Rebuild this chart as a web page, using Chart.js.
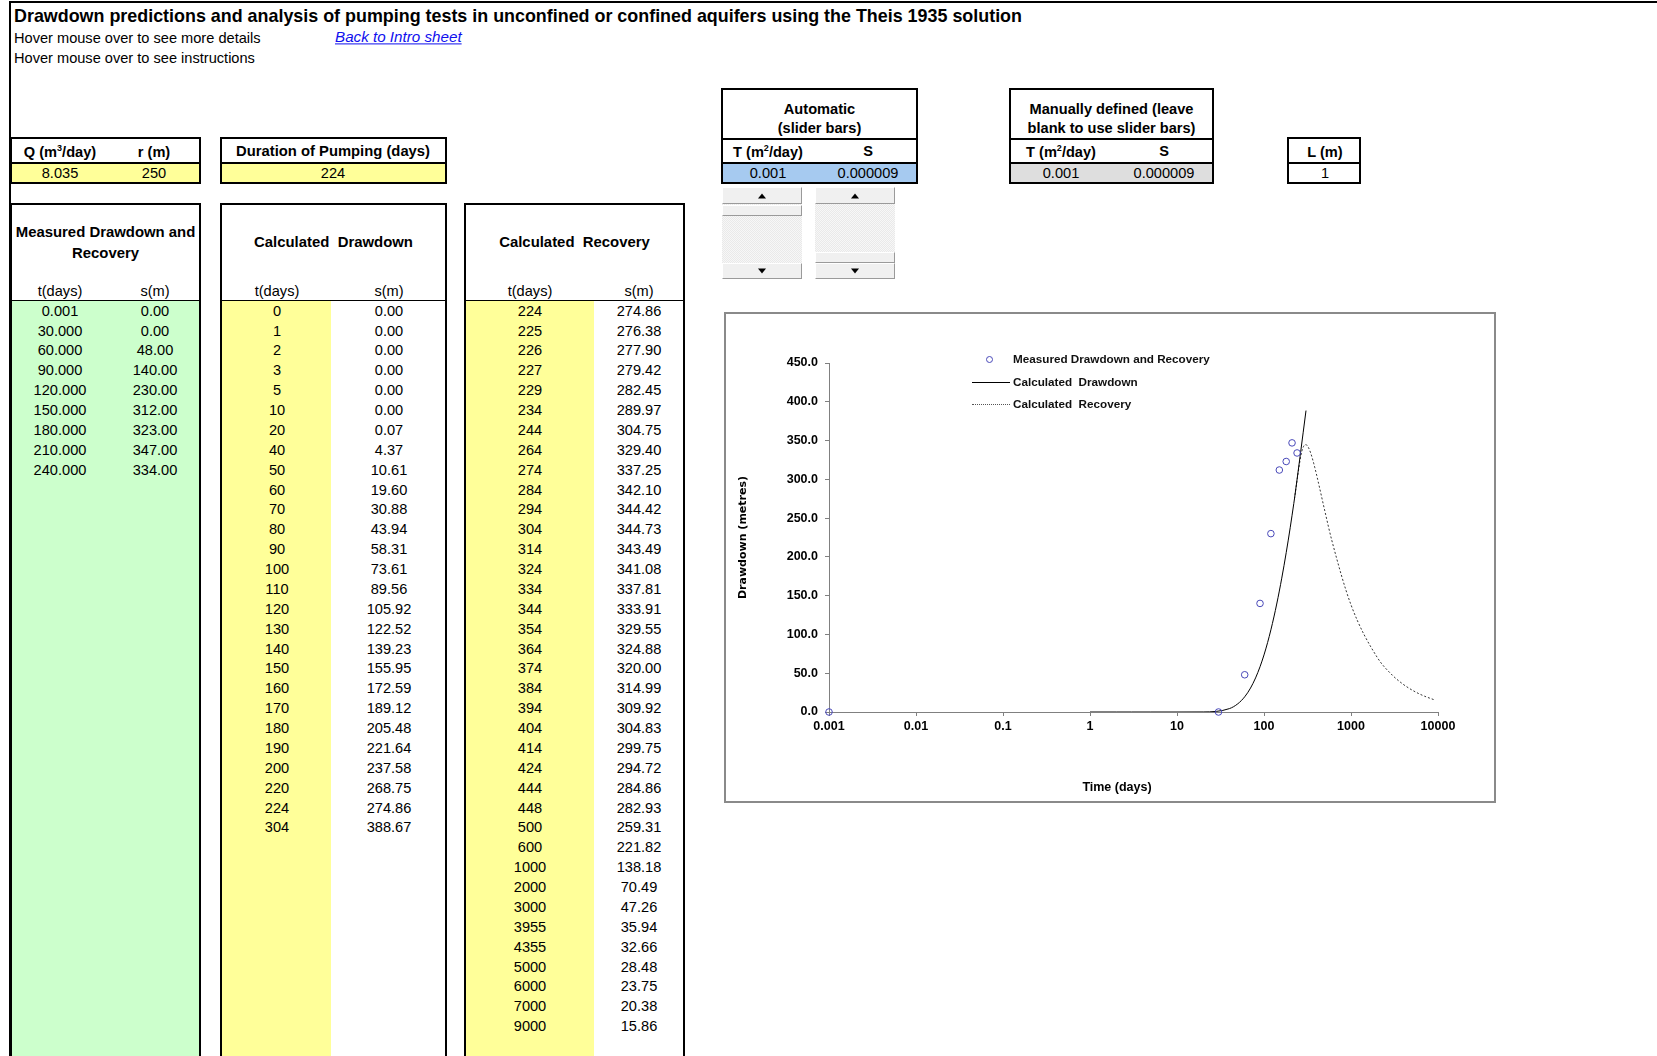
<!DOCTYPE html>
<html>
<head>
<meta charset="utf-8">
<script src="https://cdn.jsdelivr.net/npm/chart.js@4.4.1/dist/chart.umd.min.js"></script>
<style>
  body { margin: 0; background: #fff; }
  #page { position: relative; width: 1657px; height: 1056px; overflow: hidden;
          font-family: "Liberation Sans", Arial, sans-serif; color: #000; }
  .t { position: absolute; white-space: pre; transform: translate(-50%, -50%);
       font-size: 14.6px; line-height: 1; }
  .l { transform: translate(0, -50%); }
  .b { font-weight: bold; }
  .box { position: absolute; border: 2px solid #000; box-sizing: border-box; }
  .fill { position: absolute; }
  .hl { position: absolute; height: 1px; background: #000; }
  sup { font-size: 9px; vertical-align: 6px; line-height: 0; }
  .track { position: absolute; background: repeating-conic-gradient(#e9e9e9 0 25%, #f7f7f7 0 50%) 0 0 / 2px 2px; }
  .btn { position: absolute; box-sizing: border-box; background: #f0f0f0;
         border: 1px solid; border-color: #fff #9a9a9a #9a9a9a #fff; }
  .up, .dn { position: absolute; left: 50%; top: 50%; width: 0; height: 0;
             border-left: 4px solid transparent; border-right: 4px solid transparent;
             transform: translate(-50%, -50%); }
  .up { border-bottom: 5px solid #000; }
  .dn { border-top: 5px solid #000; }
  #chartBox { position: absolute; left: 724px; top: 312px; width: 772px; height: 491px;
              border: 2px solid #8a8a8a; box-sizing: border-box; background: #fff; }
  #chartBox canvas { position: absolute; left: 0; top: 0; }
</style>
</head>
<body>
<div id="page">
  <div id="chartBox"><canvas id="theisChart" width="768" height="487"></canvas></div>
</div>
<script>
// DATA
const measuredT = [0.001, 30, 60, 90, 120, 150, 180, 210, 240];
const measuredS = [0, 0, 48, 140, 230, 312, 323, 347, 334];

const drawdownT = [0, 1, 2, 3, 5, 10, 20, 40, 50, 60, 70, 80, 90, 100, 110, 120, 130, 140,
                   150, 160, 170, 180, 190, 200, 220, 224, 304];
const drawdownS = [0, 0, 0, 0, 0, 0, 0.07, 4.37, 10.61, 19.60, 30.88, 43.94, 58.31, 73.61,
                   89.56, 105.92, 122.52, 139.23, 155.95, 172.59, 189.12, 205.48, 221.64,
                   237.58, 268.75, 274.86, 388.67];

const recoveryT = [224, 225, 226, 227, 229, 234, 244, 264, 274, 284, 294, 304, 314, 324, 334,
                   344, 354, 364, 374, 384, 394, 404, 414, 424, 444, 448, 500, 600, 1000, 2000,
                   3000, 3955, 4355, 5000, 6000, 7000, 9000];
const recoveryS = [274.86, 276.38, 277.90, 279.42, 282.45, 289.97, 304.75, 329.40, 337.25,
                   342.10, 344.42, 344.73, 343.49, 341.08, 337.81, 333.91, 329.55, 324.88,
                   320.00, 314.99, 309.92, 304.83, 299.75, 294.72, 284.86, 282.93, 259.31,
                   221.82, 138.18, 70.49, 47.26, 35.94, 32.66, 28.48, 23.75, 20.38, 15.86];

const xTicks = [0.001, 0.01, 0.1, 1, 10, 100, 1000, 10000];
const xTickLabels = ['0.001', '0.01', '0.1', '1', '10', '100', '1000', '10000'];

// SHEET (cells around the chart)
const page = document.getElementById('page');

function el(cls, css, html) {
    const d = document.createElement('div');
    d.className = cls;
    Object.assign(d.style, css);
    if (html !== undefined) d.innerHTML = html;
    page.appendChild(d);
    return d;
}
function put(html, x, y, cls, css) {
    return el('t ' + (cls || ''), Object.assign({ left: x + 'px', top: y + 'px' }, css || {}), html);
}
function px(o) {
    const r = {};
    for (const k in o) r[k] = typeof o[k] === 'number' ? o[k] + 'px' : o[k];
    return r;
}

// page frame
el('fill', px({ left: 9, top: 1, width: 2, height: 1060, background: '#000' }));
el('fill', px({ left: 9, top: 1, width: 1660, height: 2, background: '#000' }));

put('Drawdown predictions and analysis of pumping tests in unconfined or confined aquifers using the Theis 1935 solution',
    14, 17, 'l b', { fontSize: '17.9px' });
put('Hover mouse over to see more details', 14, 38, 'l');
put('Back to Intro sheet', 335, 37, 'l', { color: '#1010ee', fontStyle: 'italic', textDecoration: 'underline', fontSize: '15.2px' });
put('Hover mouse over to see instructions', 14, 58, 'l');

// input boxes
el('fill', px({ left: 12, top: 164, width: 187, height: 18, background: '#ffff99' }));
el('box', px({ left: 10, top: 137, width: 191, height: 47 }));
el('hl', px({ left: 12, top: 162, width: 187, height: 1.5 }));
put('Q (m<sup>3</sup>/day)', 60, 152, 'b');
put('r (m)', 154, 152, 'b');
put('8.035', 60, 173);
put('250', 154, 173);

el('fill', px({ left: 222, top: 164, width: 223, height: 18, background: '#ffff99' }));
el('box', px({ left: 220, top: 137, width: 227, height: 47 }));
el('hl', px({ left: 222, top: 162, width: 223, height: 1.5 }));
put('Duration of Pumping (days)', 333, 151, 'b', { fontSize: '14.8px' });
put('224', 333, 173);

function paramBox(x, w, fill, head1, head2) {
    el('fill', px({ left: x + 2, top: 164, width: w - 4, height: 18, background: fill }));
    el('box', px({ left: x, top: 88, width: w, height: 96 }));
    el('hl', px({ left: x + 2, top: 138, width: w - 4, height: 1.5 }));
    el('hl', px({ left: x + 2, top: 162, width: w - 4, height: 1.5 }));
    const cx = x + w / 2;
    put(head1, cx, 109, 'b');
    put(head2, cx, 128, 'b');
}
paramBox(721, 197, '#a6caf0', 'Automatic', '(slider bars)');
put('T (m<sup>2</sup>/day)', 768, 152, 'b');
put('S', 868, 151, 'b');
put('0.001', 768, 173);
put('0.000009', 868, 173);

paramBox(1009, 205, '#dedede', 'Manually defined (leave', 'blank to use slider bars)');
put('T (m<sup>2</sup>/day)', 1061, 152, 'b');
put('S', 1164, 151, 'b');
put('0.001', 1061, 173);
put('0.000009', 1164, 173);

el('box', px({ left: 1287, top: 137, width: 74, height: 47 }));
el('hl', px({ left: 1289, top: 162, width: 70, height: 1.5 }));
put('L (m)', 1325, 152, 'b');
put('1', 1325, 173);

// slider bars
function slider(x, thumbTop) {
    el('track', px({ left: x, top: 187, width: 80, height: 92 }));
    el('btn', px({ left: x, top: 187, width: 80, height: 17 })).appendChild(Object.assign(document.createElement('div'), { className: 'up' }));
    el('btn', px({ left: x, top: thumbTop, width: 80, height: 11 }));
    el('btn', px({ left: x, top: 263, width: 80, height: 16 })).appendChild(Object.assign(document.createElement('div'), { className: 'dn' }));
}
slider(722, 205);
slider(815, 252);

// data tables
const ROW0 = 310.7, ROWH = 19.875;

function dataTable(x, w, title, tx, sx, ts, ss, tFmt, tFill, tFillW) {
    if (tFill) el('fill', px({ left: x + 2, top: 301, width: tFillW, height: 800, background: tFill }));
    el('box', px({ left: x, top: 203, width: w, height: 900 }));
    el('hl', px({ left: x + 2, top: 300, width: w - 4 }));
    const cx = x + w / 2;
    const hcss = { fontSize: '14.9px' };
    if (title.length === 2) {
        put(title[0], cx, 232, 'b', hcss);
        put(title[1], cx, 253, 'b', hcss);
    } else {
        put(title[0], cx, 242, 'b', hcss);
    }
    put('t(days)', tx, 291);
    put('s(m)', sx, 291);
    ts.forEach((t, i) => {
        const y = ROW0 + i * ROWH;
        put(tFmt(t), tx, y);
        put(ss[i].toFixed(2), sx, y);
    });
}

dataTable(10, 191, ['Measured Drawdown and', 'Recovery'], 60, 155, measuredT, measuredS,
          t => t.toFixed(3), '#ccffcc', 187);
dataTable(220, 227, ['Calculated  Drawdown'], 277, 389, drawdownT, drawdownS,
          t => String(t), '#ffff99', 109);
dataTable(464, 221, ['Calculated  Recovery'], 530, 639, recoveryT, recoveryS,
          t => String(t), '#ffff99', 128);

// legend and x-axis title (inside the chart box)
const MEAS_COLOR = '#4848b8';
el('fill', px({ left: 985.5, top: 355.5, width: 7, height: 7, border: '1px solid ' + MEAS_COLOR, borderRadius: '50%', boxSizing: 'border-box' }));
el('fill', px({ left: 972, top: 381.5, width: 38, height: 1, background: '#000' }));
el('fill', px({ left: 972, top: 403.5, width: 38, height: 0, borderTop: '1px dotted #555' }));
put('Measured Drawdown and Recovery', 1013, 359, 'l b', { fontSize: '11.7px', color: '#111' });
put('Calculated  Drawdown', 1013, 382, 'l b', { fontSize: '11.7px', color: '#111' });
put('Calculated  Recovery', 1013, 404, 'l b', { fontSize: '11.7px', color: '#111' });
put('Time (days)', 1117, 787, 'b', { fontSize: '12.5px' });

// CHART
function toPoints(ts, ss) {
    // log axis: non-positive times are not plotted
    return ts.map((t, i) => ({ x: t, y: ss[i] })).filter(p => p.x > 0);
}

const tickFont = { family: '"Liberation Sans", Arial, sans-serif', size: 12.5, weight: 'bold' };
const AXIS = '#808080';

const ctx = document.getElementById('theisChart').getContext('2d');
new Chart(ctx, {
    type: 'scatter',
    data: {
        datasets: [
            {
                label: 'Measured Drawdown and Recovery',
                data: toPoints(measuredT, measuredS),
                showLine: false,
                pointRadius: 3.3,
                pointBorderWidth: 1,
                pointBorderColor: MEAS_COLOR,
                pointBackgroundColor: 'rgba(0,0,0,0)',
                clip: false
            },
            {
                label: 'Calculated  Drawdown',
                data: toPoints(drawdownT, drawdownS),
                showLine: true,
                borderColor: '#000',
                borderWidth: 1,
                pointRadius: 0,
                cubicInterpolationMode: 'monotone'
            },
            {
                label: 'Calculated  Recovery',
                data: toPoints(recoveryT, recoveryS),
                showLine: true,
                borderColor: '#333',
                borderWidth: 1,
                borderDash: [2, 2],
                pointRadius: 0,
                cubicInterpolationMode: 'monotone'
            }
        ]
    },
    options: {
        responsive: false,
        animation: false,
        layout: { padding: { top: 49, right: 56, left: 0, bottom: 0 } },
        plugins: { legend: { display: false }, tooltip: { enabled: false } },
        scales: {
            x: {
                type: 'logarithmic',
                min: 0.001,
                max: 10000,
                afterBuildTicks: s => { s.ticks = xTicks.map(v => ({ value: v })); },
                afterFit: s => { s.height = 89; },
                ticks: {
                    callback: (v, i) => xTickLabels[i],
                    autoSkip: false, maxRotation: 0,
                    color: '#000', font: tickFont, padding: 3.5
                },
                grid: { drawOnChartArea: false, drawTicks: true, tickLength: 4, color: AXIS },
                border: { display: true, color: AXIS, width: 1 }
            },
            y: {
                min: 0,
                max: 450,
                afterFit: s => { s.width = 103; },
                ticks: {
                    stepSize: 50,
                    callback: v => v.toFixed(1),
                    color: '#000', font: tickFont, padding: 7
                },
                grid: { drawOnChartArea: false, drawTicks: true, tickLength: 4, color: AXIS },
                border: { display: true, color: AXIS, width: 1 },
                title: {
                    display: true, text: 'Drawdown (metres)', color: '#000',
                    font: { family: '"DejaVu Sans", Verdana, sans-serif', size: 11, weight: 'bold' },
                    padding: { top: 11, bottom: 0 }
                }
            }
        }
    }
});
</script>
</body>
</html>
